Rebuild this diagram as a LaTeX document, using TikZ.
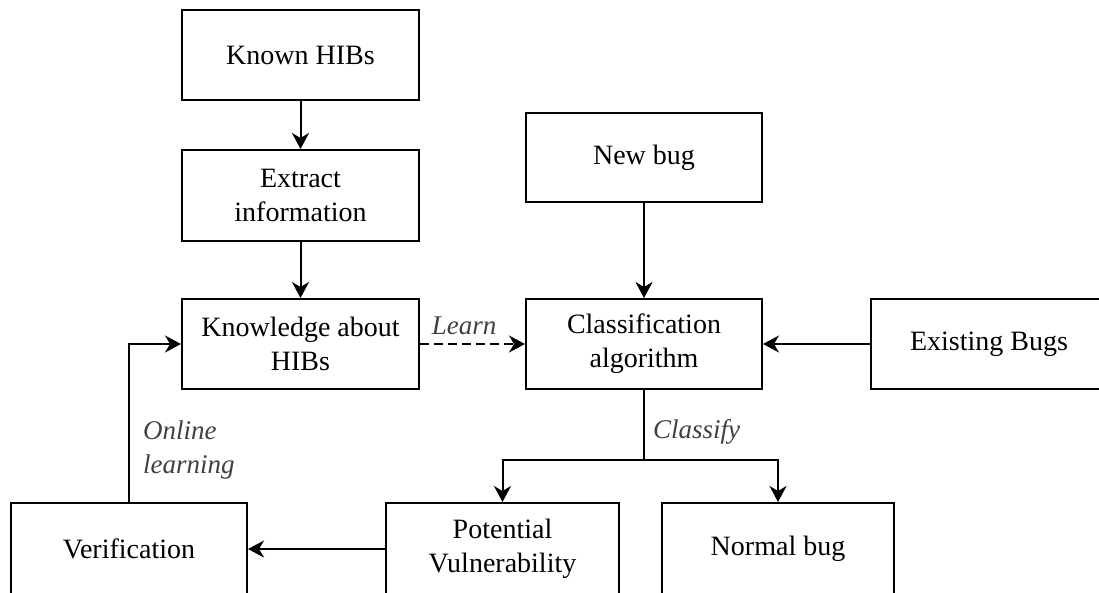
\documentclass[tikz,border=0pt]{standalone}
\usepackage{fontspec}
\setmainfont{Liberation Serif}
\usetikzlibrary{arrows.meta}
\definecolor{lblgray}{HTML}{404040}
\tikzset{
  box/.style={draw=black, line width=2pt, rectangle, inner sep=0pt, align=center,
    font=\fontsize{28}{34}\selectfont, text=black},
  conn/.style={line width=2pt, -{Stealth[length=16pt,width=17pt,inset=5pt]}},
  plain/.style={line width=2pt},
  lbl/.style={font=\fontsize{27}{34}\itshape\selectfont, text=lblgray, inner sep=0pt, align=left}
}
\begin{document}
\begin{tikzpicture}[x=1pt,y=-1pt]
\useasboundingbox (0,0) rectangle (1099,592);
\clip (0,0) rectangle (1099,592);
\node[box, minimum width=237pt, minimum height=90pt] (known) at (300.5,55) {Known HIBs};
\node[box, minimum width=237pt, minimum height=91pt] (extract) at (300.5,195.5) {Extract\\information};
\node[box, minimum width=237pt, minimum height=90pt] (know) at (300.5,344) {Knowledge about\\HIBs};
\node[box, minimum width=236pt, minimum height=89pt] (newbug) at (644,157.5) {New bug};
\node[box, minimum width=236pt, minimum height=90pt] (classif) at (644,344) {Classification\\algorithm};
\node[box, minimum width=236pt, minimum height=90pt] (exist) at (989,344) {Existing Bugs};
\node[box, minimum width=236pt, minimum height=92pt] (verif) at (129,549) {Verification};
\node[box, minimum width=233pt, minimum height=92pt] (potential) at (502.5,549) {Potential\\Vulnerability};
\node[box, minimum width=232pt, minimum height=92pt] (normal) at (778,549) {Normal bug};

\draw[conn] (known.south) -- (extract.north);
\draw[conn] (extract.south) -- (know.north);
\draw[conn, dashed, dash pattern=on 9pt off 5pt] (know.east) -- node[lbl, above=8pt, pos=0.42] (learn) {Learn} (classif.west);
\draw[conn] (newbug.south) -- (classif.north);
\draw[conn] (exist.west) -- (classif.east);
\coordinate (branch) at (644,460);
\draw[plain] (classif.south) -- (branch);
\draw[conn] (branch) -| (potential.north);
\draw[conn] (branch) -| (normal.north);
\node[lbl, anchor=west] (classify) at (653,432) {Classify};
\draw[conn] (potential.west) -- (verif.east);
\coordinate (corner) at (verif.north |- know.west);
\draw[conn] (verif.north) -- (corner) -- (know.west);
\node[lbl, anchor=west] (online) at (143,450) {Online\\learning};
\end{tikzpicture}
\end{document}
